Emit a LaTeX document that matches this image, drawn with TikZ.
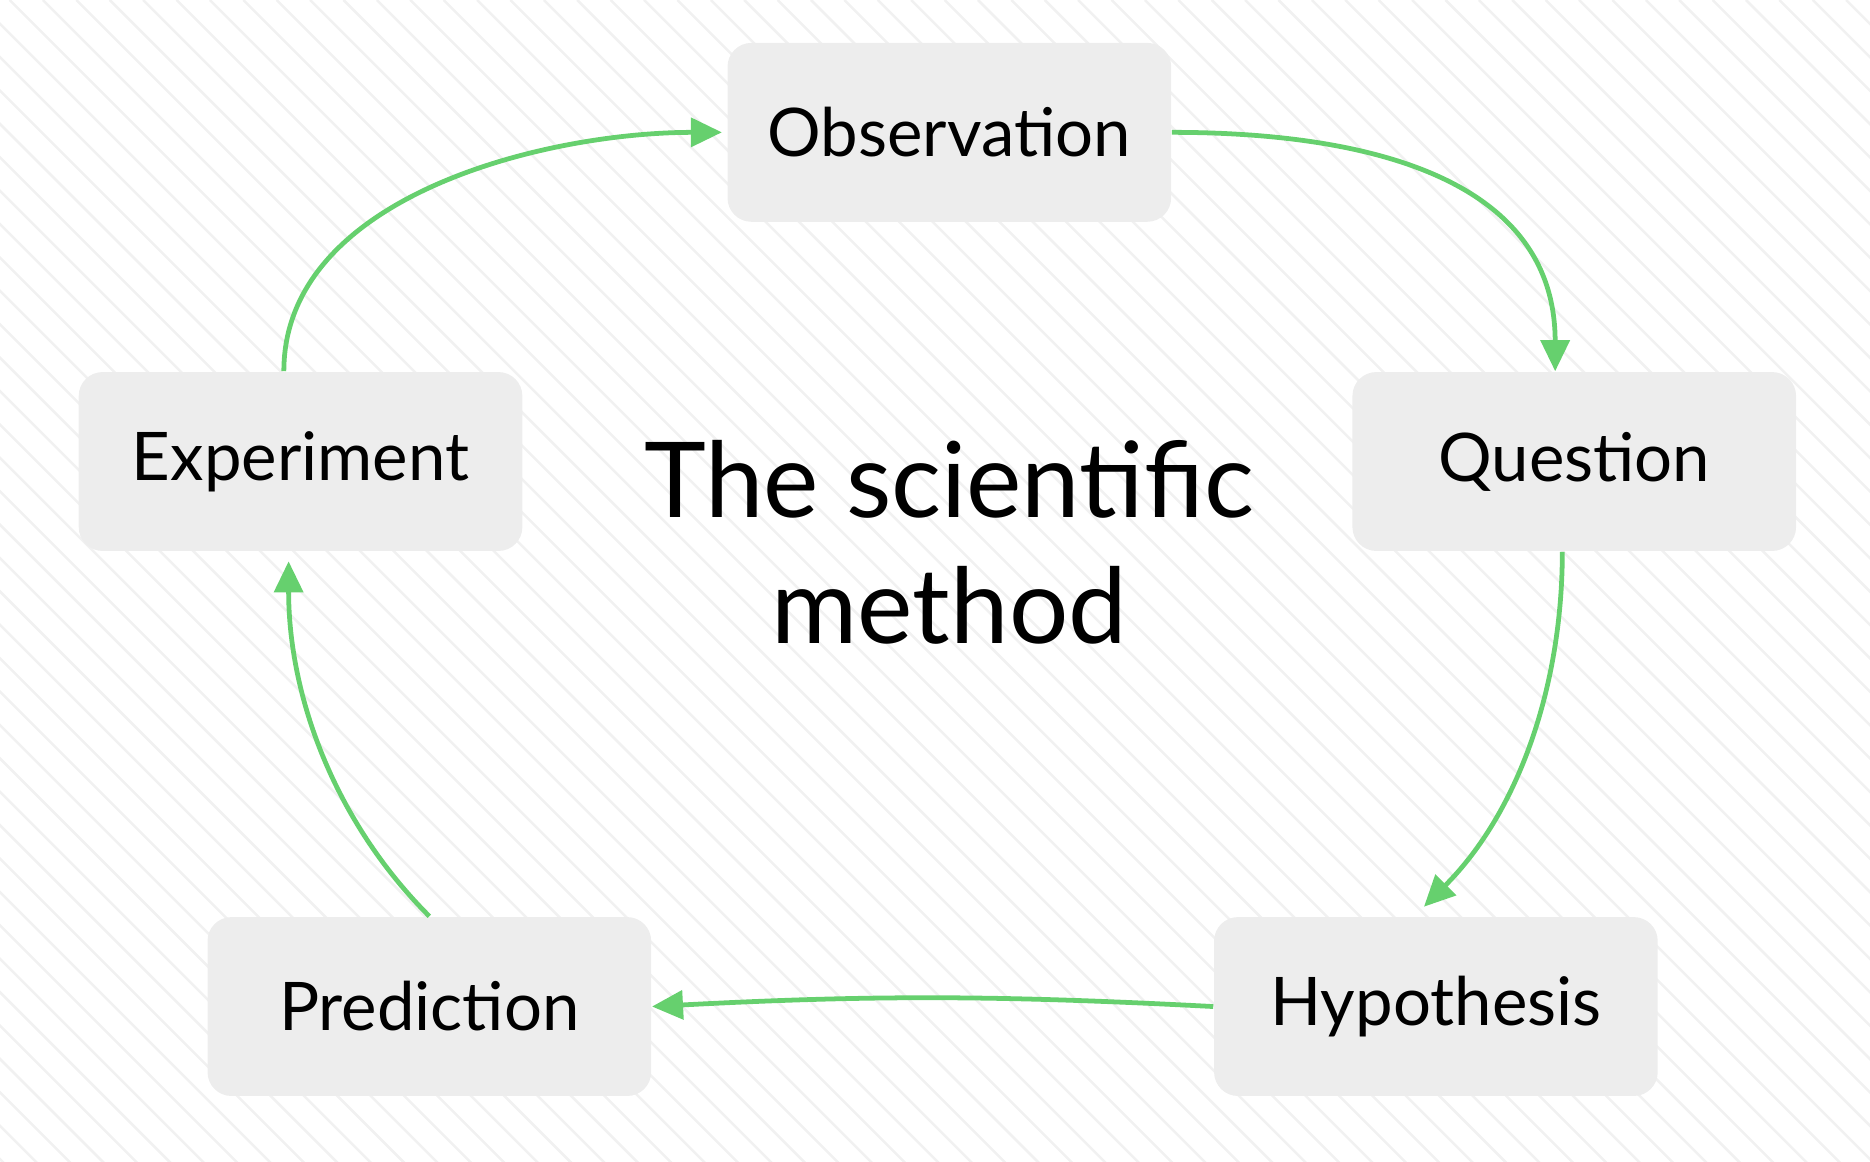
\documentclass[tikz,border=0pt]{standalone}
\usepackage{fontspec}
\setmainfont{Lato}
\usetikzlibrary{calc,arrows.meta}
\definecolor{boxgray}{HTML}{EDEDED}
\definecolor{arrowgreen}{HTML}{66D06E}
\definecolor{stripe}{HTML}{F1F1F1}
\begin{document}
\begin{tikzpicture}[
                stage/.style={
                    rectangle,
                    fill=boxgray,
                    rounded corners=0.2cm,
                    minimum width=3.72cm,
                    minimum height=1.5cm,
                    font=\fontsize{16}{19}\selectfont
                },
                flow/.style={-{Triangle[length=0.26cm,width=0.24cm]}, line width=0.04cm, arrowgreen}
            ]
                % Hintergrund
                \useasboundingbox (0,0) rectangle (15.68,9.74);
                \begin{scope}
                    \clip (0,0) rectangle (15.68,9.74);
                    \foreach \s in {0,0.28,...,26}
                        \draw[stripe, line width=0.6pt] (\s-10,9.74) -- (\s,-0.26);
                \end{scope}
                % Knoten
                \node[stage] (obs) at (7.96,8.63) {Observation};
                \node[stage] (que) at (13.20,5.87) {Question};
                \node[stage] (hyp) at (12.04,1.30) {Hypothesis};
                \node[stage] (pre) at (3.60,1.30) {Prediction};
                \node[stage] (exp) at (2.52,5.87) {Experiment};
                \node[align=center, font=\fontsize{25}{30}\selectfont] (title) at (7.96,5.19) {The scientific\\method};

                % Kanten
                \draw[flow] (obs.east) to[out=0, in=90, looseness=1.1] ($(que.north)+(-0.16,0)$);
                \draw[flow] ($(que.south)+(-0.1,0)$) to[out=-90, in=45, looseness=0.9] ($(hyp.north)+(-0.1,0.08)$);
                \draw[flow] (hyp.west) to[bend right=3] (pre.east);
                \draw[flow] (pre.north) to[out=135, in=-90, looseness=0.9] ($(exp.south)+(-0.1,-0.08)$);
                \draw[flow] ($(exp.north)+(-0.14,0)$) to[out=90, in=180, looseness=0.9] ($(obs.west)+(-0.04,0)$);
\end{tikzpicture}
\end{document}
